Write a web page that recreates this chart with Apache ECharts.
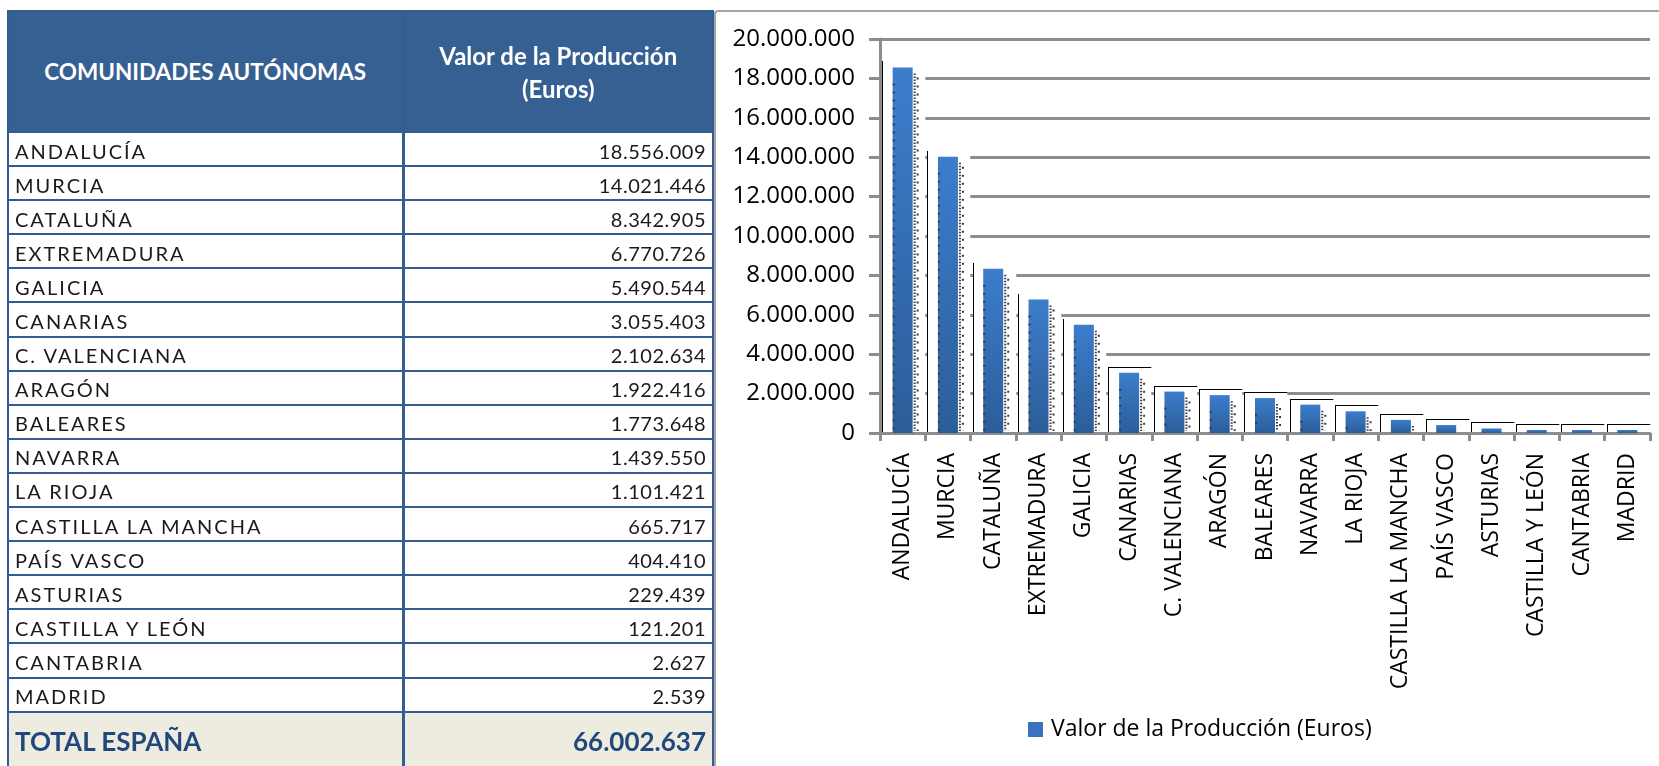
<!DOCTYPE html>
<html>
<head>
<meta charset="utf-8">
<script src="https://cdn.jsdelivr.net/npm/echarts@6/dist/echarts.min.js"></script>
<style>
  html, body { margin: 0; padding: 0; background: #fff; overflow: hidden; }
  #page { position: relative; width: 1659px; height: 766px; overflow: hidden; }
  #frame {
    position: absolute; left: 714px; top: 10px; width: 980px; height: 800px;
    border: 2px solid #a6a6a6; border-radius: 4px; box-sizing: border-box; z-index: 0;
  }
  #chart { position: absolute; left: 0; top: 0; width: 1659px; height: 766px; z-index: 1; }
  #tbl {
    position: absolute; left: 7px; top: 10px; z-index: 2;
    border-collapse: collapse; table-layout: fixed; width: 705px;
    font-family: Lato, "Open Sans", sans-serif;
  }
  #tbl td, #tbl th { border: 2px solid #325d91; padding: 0 6px; overflow: hidden; white-space: nowrap; }
  #tbl th { background: #376092; color: #fff; font-weight: bold; font-size: 22.5px; line-height: 33px; height: 119px; }
  #tbl th.c2 { font-size: 24px; }
  #tbl td { height: 29.1px; font-size: 20px; color: #1a1a1a; letter-spacing: 2px; padding-top: 3px; padding-bottom: 0; }
  #tbl td.num { text-align: right; letter-spacing: 0.5px; }
  #tbl td.c2, #tbl th.c2 { border-left-width: 3px; }
  #tbl tr.total td { background: #eeece1; color: #1f497d; font-weight: bold; font-size: 26px; height: 56px; letter-spacing: 0; padding-top: 0; }
</style>
</head>
<body>
<div id="page">
  <div id="frame"></div>
  <div id="chart"></div>
  <table id="tbl">
    <colgroup><col style="width:395px"><col style="width:310px"></colgroup>
    <thead>
      <tr><th id="h1"></th><th class="c2" id="h2"></th></tr>
    </thead>
    <tbody id="rows"></tbody>
  </table>
</div>
<script>
var headerRegion = 'COMUNIDADES AUTÓNOMAS'
var headerValue = ['Valor de la Producción', '(Euros)']
var seriesName = 'Valor de la Producción (Euros)'
var totalLabel = 'TOTAL ESPAÑA'
var totalValue = 66002637

var categories = ['ANDALUCÍA', 'MURCIA', 'CATALUÑA', 'EXTREMADURA', 'GALICIA', 'CANARIAS',
  'C. VALENCIANA', 'ARAGÓN', 'BALEARES', 'NAVARRA', 'LA RIOJA', 'CASTILLA LA MANCHA',
  'PAÍS VASCO', 'ASTURIAS', 'CASTILLA Y LEÓN', 'CANTABRIA', 'MADRID']
var values = [18556009, 14021446, 8342905, 6770726, 5490544, 3055403, 2102634, 1922416,
  1773648, 1439550, 1101421, 665717, 404410, 229439, 121201, 2627, 2539]

var yMin = 0
var yMax = 20000000
var yStep = 2000000

function fmt (v) {
  return String(v).replace(/\B(?=(\d{3})+(?!\d))/g, '.')
}

// tabla de la izquierda
document.getElementById('h1').textContent = headerRegion
document.getElementById('h2').innerHTML = headerValue.join('<br>')
var body = document.getElementById('rows')
categories.forEach(function (c, i) {
  var tr = document.createElement('tr')
  tr.innerHTML = '<td>' + c + '</td><td class="num c2">' + fmt(values[i]) + '</td>'
  body.appendChild(tr)
})
var trT = document.createElement('tr')
trT.className = 'total'
trT.innerHTML = '<td>' + totalLabel + '</td><td class="num c2">' + fmt(totalValue) + '</td>'
body.appendChild(trT)

var grey = '#8d8d8d'
var font = 'Open Sans'
var barW = 20

// "paredes" blancas detras de cada barra (tapan la cuadricula)
function wallItem (params, api) {
  var i = api.value(0)
  var v = api.value(1)
  var top = api.coord([i, v])
  var base = api.coord([i, 0])
  var band = api.size([1, 0])[0]
  var x0 = Math.round(top[0] - band / 2) + 2
  var y0 = Math.round(Math.min(top[1], base[1] - 3) - 6)
  var kids = [
    { type: 'rect', shape: { x: x0, y: y0, width: band - 2, height: base[1] - 2 - y0 }, style: { fill: '#fff' } },
    { type: 'line', shape: { x1: x0 + 0.5, y1: y0, x2: x0 + 0.5, y2: base[1] - 1 }, style: { stroke: '#000', lineWidth: 1 } }
  ]
  // el borde superior solo se ve en las columnas bajas
  if (v < yStep * 2) {
    kids.push({ type: 'line', shape: { x1: x0, y1: y0 + 0.5, x2: x0 + band - 2, y2: y0 + 0.5 }, style: { stroke: '#000', lineWidth: 1 } })
  }
  return { type: 'group', children: kids }
}

// sombra punteada a la derecha de cada barra
function dotItem (params, api) {
  var i = api.value(0)
  var top = api.coord([i, api.value(1)])
  var base = api.coord([i, 0])
  var l = top[0] - barW / 2
  var r = top[0] + barW / 2
  var kids = []
  function vline (x, y1, dash, w) {
    if (base[1] - 2 - y1 > 3) {
      kids.push({ type: 'line', shape: { x1: x, y1: y1, x2: x, y2: base[1] - 2 }, style: { stroke: '#3a3a3a', lineWidth: w, lineDash: dash } })
    }
  }
  vline(l + 1, top[1] + 16, [2, 6], 2)
  vline(r + 2, top[1] + 6, [1.5, 1.5], 2)
  vline(r + 5, top[1] + 10, [2, 6], 2)
  return { type: 'group', children: kids }
}

var pairs = values.map(function (v, i) { return [i, v] })

var chart = echarts.init(document.getElementById('chart'))
chart.setOption({
  animation: false,
  grid: { left: 880, right: 9, top: 39, bottom: 333 },
  legend: {
    data: [{ name: seriesName, itemStyle: { color: '#3a72bd' } }],
    left: 1028, top: 718, padding: 0,
    itemWidth: 15, itemHeight: 15, icon: 'rect',
    textStyle: { fontFamily: font, fontSize: 23, color: '#000', padding: [0, 0, 0, 3] }
  },
  xAxis: {
    type: 'category',
    data: categories,
    axisLine: { lineStyle: { color: grey, width: 3 } },
    axisTick: { show: true, length: 8, lineStyle: { color: grey, width: 3 } },
    axisLabel: { rotate: 90, margin: 20, interval: 0, fontFamily: font, fontSize: 23, color: '#000' }
  },
  yAxis: {
    type: 'value',
    min: yMin, max: yMax, interval: yStep,
    axisLine: { show: true, lineStyle: { color: grey, width: 3 } },
    axisTick: { show: true, length: 11, lineStyle: { color: grey, width: 3 } },
    axisLabel: { margin: 25, fontFamily: font, fontSize: 24, color: '#000', formatter: fmt, padding: [6, 0, 0, 0] },
    splitLine: { lineStyle: { color: grey, width: 3 } }
  },
  series: [
    { name: 'walls', type: 'custom', renderItem: wallItem, data: pairs, z: 1, silent: true },
    {
      name: seriesName,
      type: 'bar',
      data: values,
      barWidth: barW,
      barMinHeight: 3,
      z: 3,
      itemStyle: {
        color: new echarts.graphic.LinearGradient(0, 0, 0, 1, [
          { offset: 0, color: '#3c7dcc' },
          { offset: 1, color: '#2c5d99' }
        ])
      }
    },
    { name: 'dots', type: 'custom', renderItem: dotItem, data: pairs, z: 4, silent: true }
  ]
})
</script>
</body>
</html>
